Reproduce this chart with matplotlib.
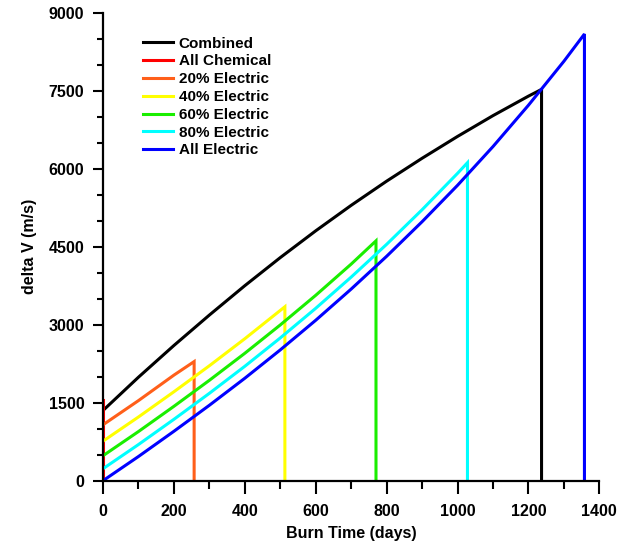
import matplotlib
matplotlib.use("Agg")
from matplotlib import pyplot as plt
from matplotlib.ticker import MultipleLocator

plt.rcParams["font.family"] = ["Liberation Sans", "DejaVu Sans"]
plt.rcParams["font.weight"] = "bold"

# burn time (days) / delta V (m/s)
combined_t = [0, 100, 200, 300, 400, 500, 600, 700, 800, 900, 1000, 1100, 1200, 1237, 1237]
combined_dv = [1350, 1990, 2600, 3185, 3750, 4290, 4805, 5295, 5760, 6200, 6620, 7020, 7395, 7525, 0]

chem_t = [0, 0]
chem_dv = [0, 1552]

e20_t = [0, 100, 200, 257, 257]
e20_dv = [1075, 1540, 2030, 2290, 0]

e40_t = [0, 100, 200, 300, 400, 513, 513]
e40_dv = [760, 1225, 1710, 2210, 2730, 3345, 0]

e60_t = [0, 100, 200, 300, 400, 500, 600, 700, 770, 770]
e60_dv = [480, 945, 1430, 1930, 2450, 2995, 3565, 4165, 4612, 0]

e80_t = [0, 100, 200, 300, 400, 500, 600, 700, 800, 900, 1000, 1028, 1028]
e80_dv = [230, 695, 1180, 1680, 2200, 2745, 3315, 3915, 4545, 5210, 5910, 6115, 0]

elec_t = [0, 100, 200, 300, 400, 500, 600, 700, 800, 900, 1000, 1100, 1200, 1300, 1358, 1358]
elec_dv = [0, 465, 950, 1450, 1970, 2515, 3085, 3685, 4315, 4980, 5680, 6425, 7220, 8065, 8590, 0]

series = [
    ("Combined", combined_t, combined_dv, "#000000"),
    ("All Chemical", chem_t, chem_dv, "#ff0000"),
    ("20% Electric", e20_t, e20_dv, "#ff5f1a"),
    ("40% Electric", e40_t, e40_dv, "#ffff00"),
    ("60% Electric", e60_t, e60_dv, "#1aee00"),
    ("80% Electric", e80_t, e80_dv, "#00ffff"),
    ("All Electric", elec_t, elec_dv, "#0000ff"),
]

fig = plt.figure(figsize=(6.18, 5.44), dpi=100)
ax = fig.add_axes([0.1667, 0.1164, 0.8031, 0.8603])

for label, t, dv, color in series:
    ax.plot(t, dv, color=color, lw=2.2, label=label, solid_joinstyle="miter")

ax.set_xlim(0, 1400)
ax.set_ylim(0, 9000)
ax.xaxis.set_major_locator(MultipleLocator(200))
ax.xaxis.set_minor_locator(MultipleLocator(100))
ax.yaxis.set_major_locator(MultipleLocator(1500))
ax.yaxis.set_minor_locator(MultipleLocator(500))

for side in ["top", "right"]:
    ax.spines[side].set_visible(False)
for side in ["left", "bottom"]:
    ax.spines[side].set_linewidth(1.6)

ax.tick_params(axis="x", which="major", length=9.5, width=1.5, pad=7, labelsize=11.5)
ax.tick_params(axis="x", which="minor", length=5.5, width=1.5)
ax.tick_params(axis="y", which="major", length=7.5, width=1.5, pad=6, labelsize=11.5)
ax.tick_params(axis="y", which="minor", length=4, width=1.5)

ax.set_xlabel("Burn Time (days)", fontsize=11.5, fontweight="bold", labelpad=5)
ax.set_ylabel("delta V (m/s)", fontsize=11.5, fontweight="bold", labelpad=8)

ax.legend(loc="upper left", bbox_to_anchor=(0.0675, 0.962), frameon=False,
          fontsize=11, handlelength=2.0, handletextpad=0.35, labelspacing=0.25,
          borderaxespad=0)

fig.savefig("out.png", dpi=100)
